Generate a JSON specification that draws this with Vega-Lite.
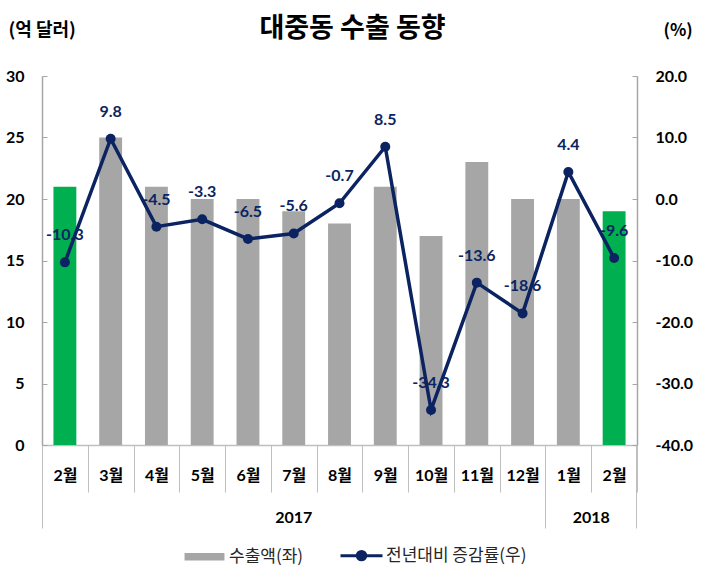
{
  "$schema": "https://vega.github.io/schema/vega-lite/v6.json",
  "width": 595,
  "height": 369,
  "autosize": {"type": "none"},
  "padding": {"left": 42, "top": 76, "right": 70, "bottom": 130},
  "background": "white",
  "config": {
    "view": {"stroke": null},
    "font": "Noto Sans CJK KR",
    "locale": {"number": {"decimal": ".", "thousands": ",", "grouping": [3], "currency": ["", ""], "minus": "-"}}
  },
  "title": {"text": "대중동 수출 동향", "fontSize": 27, "fontWeight": "bold", "font": "Noto Sans CJK KR", "color": "#000000", "anchor": "middle", "offset": 30, "dx": 13, "dy": 52},
  "data": {
    "values": [
      {"m": "2017-02", "export": 21, "growth": -10.3},
      {"m": "2017-03", "export": 25, "growth": 9.8},
      {"m": "2017-04", "export": 21, "growth": -4.5},
      {"m": "2017-05", "export": 20, "growth": -3.3},
      {"m": "2017-06", "export": 20, "growth": -6.5},
      {"m": "2017-07", "export": 19, "growth": -5.6},
      {"m": "2017-08", "export": 18, "growth": -0.7},
      {"m": "2017-09", "export": 21, "growth": 8.5},
      {"m": "2017-10", "export": 17, "growth": -34.3},
      {"m": "2017-11", "export": 23, "growth": -13.6},
      {"m": "2017-12", "export": 20, "growth": -18.6},
      {"m": "2018-01", "export": 20, "growth": 4.4},
      {"m": "2018-02", "export": 19, "growth": -9.6}
    ]
  },
  "layer": [
    {
      "mark": {"type": "bar", "width": {"band": 0.5}},
      "encoding": {
        "x": {
          "field": "m", "type": "nominal", "sort": null,
          "scale": {"paddingInner": 0, "paddingOuter": 0},
          "axis": {
            "title": null, "orient": "bottom",
            "labelExpr": "datum.value ? toNumber(slice(datum.value + '', 5)) + '월' : ''",
            "labelAngle": 0, "labelFont": "Lato, Noto Sans CJK KR", "labelFontSize": 16, "labelFontWeight": "bold",
            "labelColor": "#000000", "labelPadding": -25, "labelOverlap": false,
            "tickBand": "extent", "tickSize": 47, "tickColor": "#bfbfbf", "tickWidth": 1,
            "domainColor": "#bfbfbf", "domainWidth": 1.5
          }
        },
        "y": {
          "field": "export", "type": "quantitative",
          "scale": {"domain": [0, 30], "nice": false, "zero": true},
          "axis": {
            "title": "(억 달러)", "titleAngle": 0, "titleAlign": "left", "titleBaseline": "middle",
            "titleX": -34, "titleY": -46, "titleFont": "Noto Sans CJK KR", "titleFontSize": 18,
            "titleFontWeight": "bold", "titleColor": "#000000",
            "values": [0, 5, 10, 15, 20, 25, 30], "format": "d",
            "labelFont": "Lato", "labelFontSize": 16, "labelFontWeight": "bold", "labelColor": "#000000",
            "tickSize": -5, "labelPadding": 23, "tickColor": "#a6a6a6",
            "domainColor": "#a6a6a6", "domainWidth": 1.5, "grid": false
          }
        },
        "color": {
          "datum": "수출액(좌)", "type": "nominal",
          "condition": {"test": "slice(datum.m + '', 5) == '02'", "value": "#00b050"},
          "scale": {"domain": ["수출액(좌)", "전년대비 증감률(우)"], "range": ["#a6a6a6", "#0b2461"]},
          "legend": {
            "orient": "none", "legendX": 154, "legendY": 471, "direction": "horizontal",
            "title": null, "labelFont": "Noto Sans CJK KR", "labelFontSize": 17, "labelColor": "#262626",
            "symbolSize": 1764, "columnPadding": 30, "labelOffset": 16,
            "encode": {
              "symbols": {
                "update": {
                  "shape": {"signal": "datum.value == '수출액(좌)' ? 'M-0.95,-0.18H0.95V0.18H-0.95Z' : 'M-1,0H1M0.2,0A0.2,0.2 0 1 1 -0.2,0A0.2,0.2 0 1 1 0.2,0Z'"},
                  "fill": {"signal": "datum.value == '수출액(좌)' ? '#a6a6a6' : '#0b2461'"},
                  "stroke": {"signal": "datum.value == '수출액(좌)' ? '#a6a6a6' : '#0b2461'"},
                  "strokeWidth": {"signal": "datum.value == '수출액(좌)' ? 0 : 3"},
                  "opacity": {"value": 1}
                }
              }
            }
          }
        }
      }
    },
    {
      "mark": {"type": "line", "strokeWidth": 3.5, "point": {"filled": true, "size": 100}},
      "encoding": {
        "x": {
          "field": "m", "type": "nominal", "sort": null,
          "axis": {
            "title": null, "orient": "bottom", "domain": false,
            "values": ["2017-02", "2018-01"], "bandPosition": 0,
            "labelExpr": "datum.value == '2017-02' ? '2017' : ''",
            "labelOffset": 228.85,
            "labelAngle": 0, "labelFont": "Lato", "labelFontSize": 16, "labelFontWeight": "bold",
            "labelColor": "#000000", "labelPadding": -19, "labelOverlap": false,
            "tickSize": 83, "tickColor": "#bfbfbf", "tickWidth": 1
          }
        },
        "y": {
          "field": "growth", "type": "quantitative",
          "scale": {"domain": [-40, 20], "nice": false, "zero": false},
          "axis": {
            "orient": "right",
            "title": "(%)", "titleAngle": 0, "titleAlign": "left", "titleBaseline": "middle",
            "titleX": 26, "titleY": -46, "titleFont": "Noto Sans CJK KR", "titleFontSize": 17,
            "titleFontWeight": "bold", "titleColor": "#000000",
            "values": [-40, -30, -20, -10, 0, 10, 20], "format": ".1f",
            "labelFont": "Lato", "labelFontSize": 16, "labelFontWeight": "bold", "labelColor": "#000000",
            "tickSize": -5, "labelPadding": 23, "tickColor": "#a6a6a6",
            "domainColor": "#a6a6a6", "domainWidth": 1.5, "grid": false
          }
        },
        "color": {"datum": "전년대비 증감률(우)", "type": "nominal"}
      }
    },
    {
      "mark": {"type": "text", "font": "Lato", "fontSize": 16, "fontWeight": "bold", "color": "#0b2461", "baseline": "middle", "dy": -27},
      "encoding": {
        "x": {
          "field": "m", "type": "nominal", "sort": null,
          "axis": {
            "title": null, "orient": "bottom", "domain": false,
            "values": ["2018-02"], "bandPosition": 1,
            "labelExpr": "'2018'", "labelOffset": -22.9,
            "labelAngle": 0, "labelFont": "Lato", "labelFontSize": 16, "labelFontWeight": "bold",
            "labelColor": "#000000", "labelPadding": -19, "labelOverlap": false,
            "tickSize": 83, "tickColor": "#bfbfbf", "tickWidth": 1
          }
        },
        "y": {"field": "growth", "type": "quantitative", "scale": {"domain": [-40, 20], "nice": false, "zero": false}, "axis": null},
        "text": {"field": "growth", "type": "quantitative", "format": ".1f"}
      }
    }
  ],
  "resolve": {"scale": {"y": "independent"}, "axis": {"x": "independent"}}
}
